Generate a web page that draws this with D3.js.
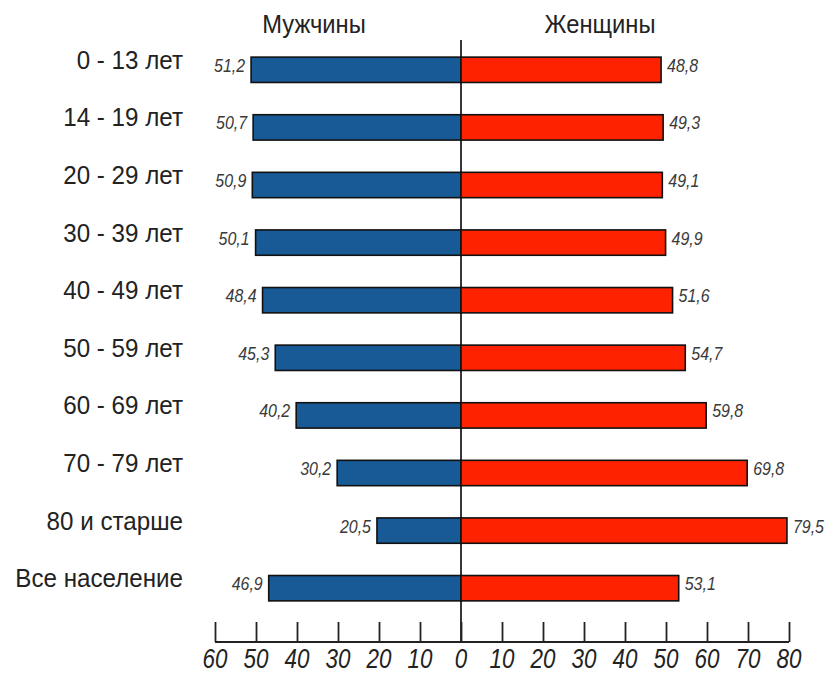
<!DOCTYPE html>
<html><head><meta charset="utf-8">
<script src="https://cdn.jsdelivr.net/npm/d3@7"></script>
<style>body{margin:0;background:#fff}svg{display:block}text{font-family:"Liberation Sans",Arial,sans-serif}</style>
</head><body><svg id="c" width="830" height="673"></svg>
<script>
const categories = ["0 - 13 лет","14 - 19 лет","20 - 29 лет","30 - 39 лет","40 - 49 лет","50 - 59 лет","60 - 69 лет","70 - 79 лет","80 и старше","Все население"];
const men   = [51.2,50.7,50.9,50.1,48.4,45.3,40.2,30.2,20.5,46.9];
const women = [48.8,49.3,49.1,49.9,51.6,54.7,59.8,69.8,79.5,53.1];
const menTicks = [60,50,40,30,20,10];
const womenTicks = [0,10,20,30,40,50,60,70,80];
const headers = ["Мужчины","Женщины"];

const svg = d3.select("#c");
const cx = 461, k = 4.1;
const xL = d3.scaleLinear().domain([0,60]).range([cx, cx-60*k]);
const xR = d3.scaleLinear().domain([0,80]).range([cx, cx+80*k]);
const y = d3.scaleBand().domain(categories).range([41,617]).paddingInner(0.56).paddingOuter(0.28);
const fmt = v => String(v).replace(".",",");

svg.append("line").attr("x1",cx).attr("x2",cx).attr("y1",40).attr("y2",642).attr("stroke","#222").attr("stroke-width",1.8);

const rows = svg.selectAll("g.row").data(categories).join("g").attr("class","row");
rows.append("rect").attr("x",(d,i)=>xL(men[i])).attr("y",d=>y(d)).attr("width",(d,i)=>cx-xL(men[i])).attr("height",y.bandwidth())
  .attr("fill","#175a96").attr("stroke","#111").attr("stroke-width",1.6);
rows.append("rect").attr("x",cx).attr("y",d=>y(d)).attr("width",(d,i)=>xR(women[i])-cx).attr("height",y.bandwidth())
  .attr("fill","#ff2200").attr("stroke","#111").attr("stroke-width",1.6);
rows.append("text").attr("transform",d=>`translate(183,${y(d)+y.bandwidth()/2-1}) scale(0.93,1)`).attr("text-anchor","end")
  .attr("font-size",26).attr("fill","#222").text(d=>d);
rows.append("text").attr("transform",(d,i)=>`translate(${xL(men[i])-6},${y(d)+y.bandwidth()/2+2}) scale(0.84,1)`).attr("text-anchor","end")
  .attr("font-size",19).attr("font-style","italic").attr("fill","#3a3a3a").text((d,i)=>fmt(men[i]));
rows.append("text").attr("transform",(d,i)=>`translate(${xR(women[i])+6},${y(d)+y.bandwidth()/2+2}) scale(0.84,1)`).attr("text-anchor","start")
  .attr("font-size",19).attr("font-style","italic").attr("fill","#3a3a3a").text((d,i)=>fmt(women[i]));

svg.append("text").attr("transform","translate(314,33) scale(0.95,1)").attr("text-anchor","middle").attr("font-size",25).attr("fill","#222").text(headers[0]);
svg.append("text").attr("transform","translate(600,33) scale(0.95,1)").attr("text-anchor","middle").attr("font-size",25).attr("fill","#222").text(headers[1]);

const axY = 642;
const gL = svg.append("g").attr("transform",`translate(0,${axY})`).call(d3.axisTop(xL).tickValues(menTicks).tickSize(20).tickFormat(""));
const gR = svg.append("g").attr("transform",`translate(0,${axY})`).call(d3.axisTop(xR).tickValues(womenTicks).tickSize(20).tickFormat(""));
[gL,gR].forEach(g=>{g.select(".domain").remove();g.selectAll(".tick line").attr("stroke","#222").attr("stroke-width",1.8);});
svg.append("line").attr("x1",xL(60)).attr("x2",xR(80)).attr("y1",axY).attr("y2",axY).attr("stroke","#222").attr("stroke-width",1.8);
const lab = (sc,vals)=>svg.append("g").selectAll("text").data(vals).join("text")
  .attr("transform",d=>`translate(${sc(d)},668) scale(0.8,1)`).attr("text-anchor","middle")
  .attr("font-size",28).attr("font-style","italic").attr("fill","#222").text(d=>d);
lab(xL,menTicks); lab(xR,womenTicks);
</script></body></html>
